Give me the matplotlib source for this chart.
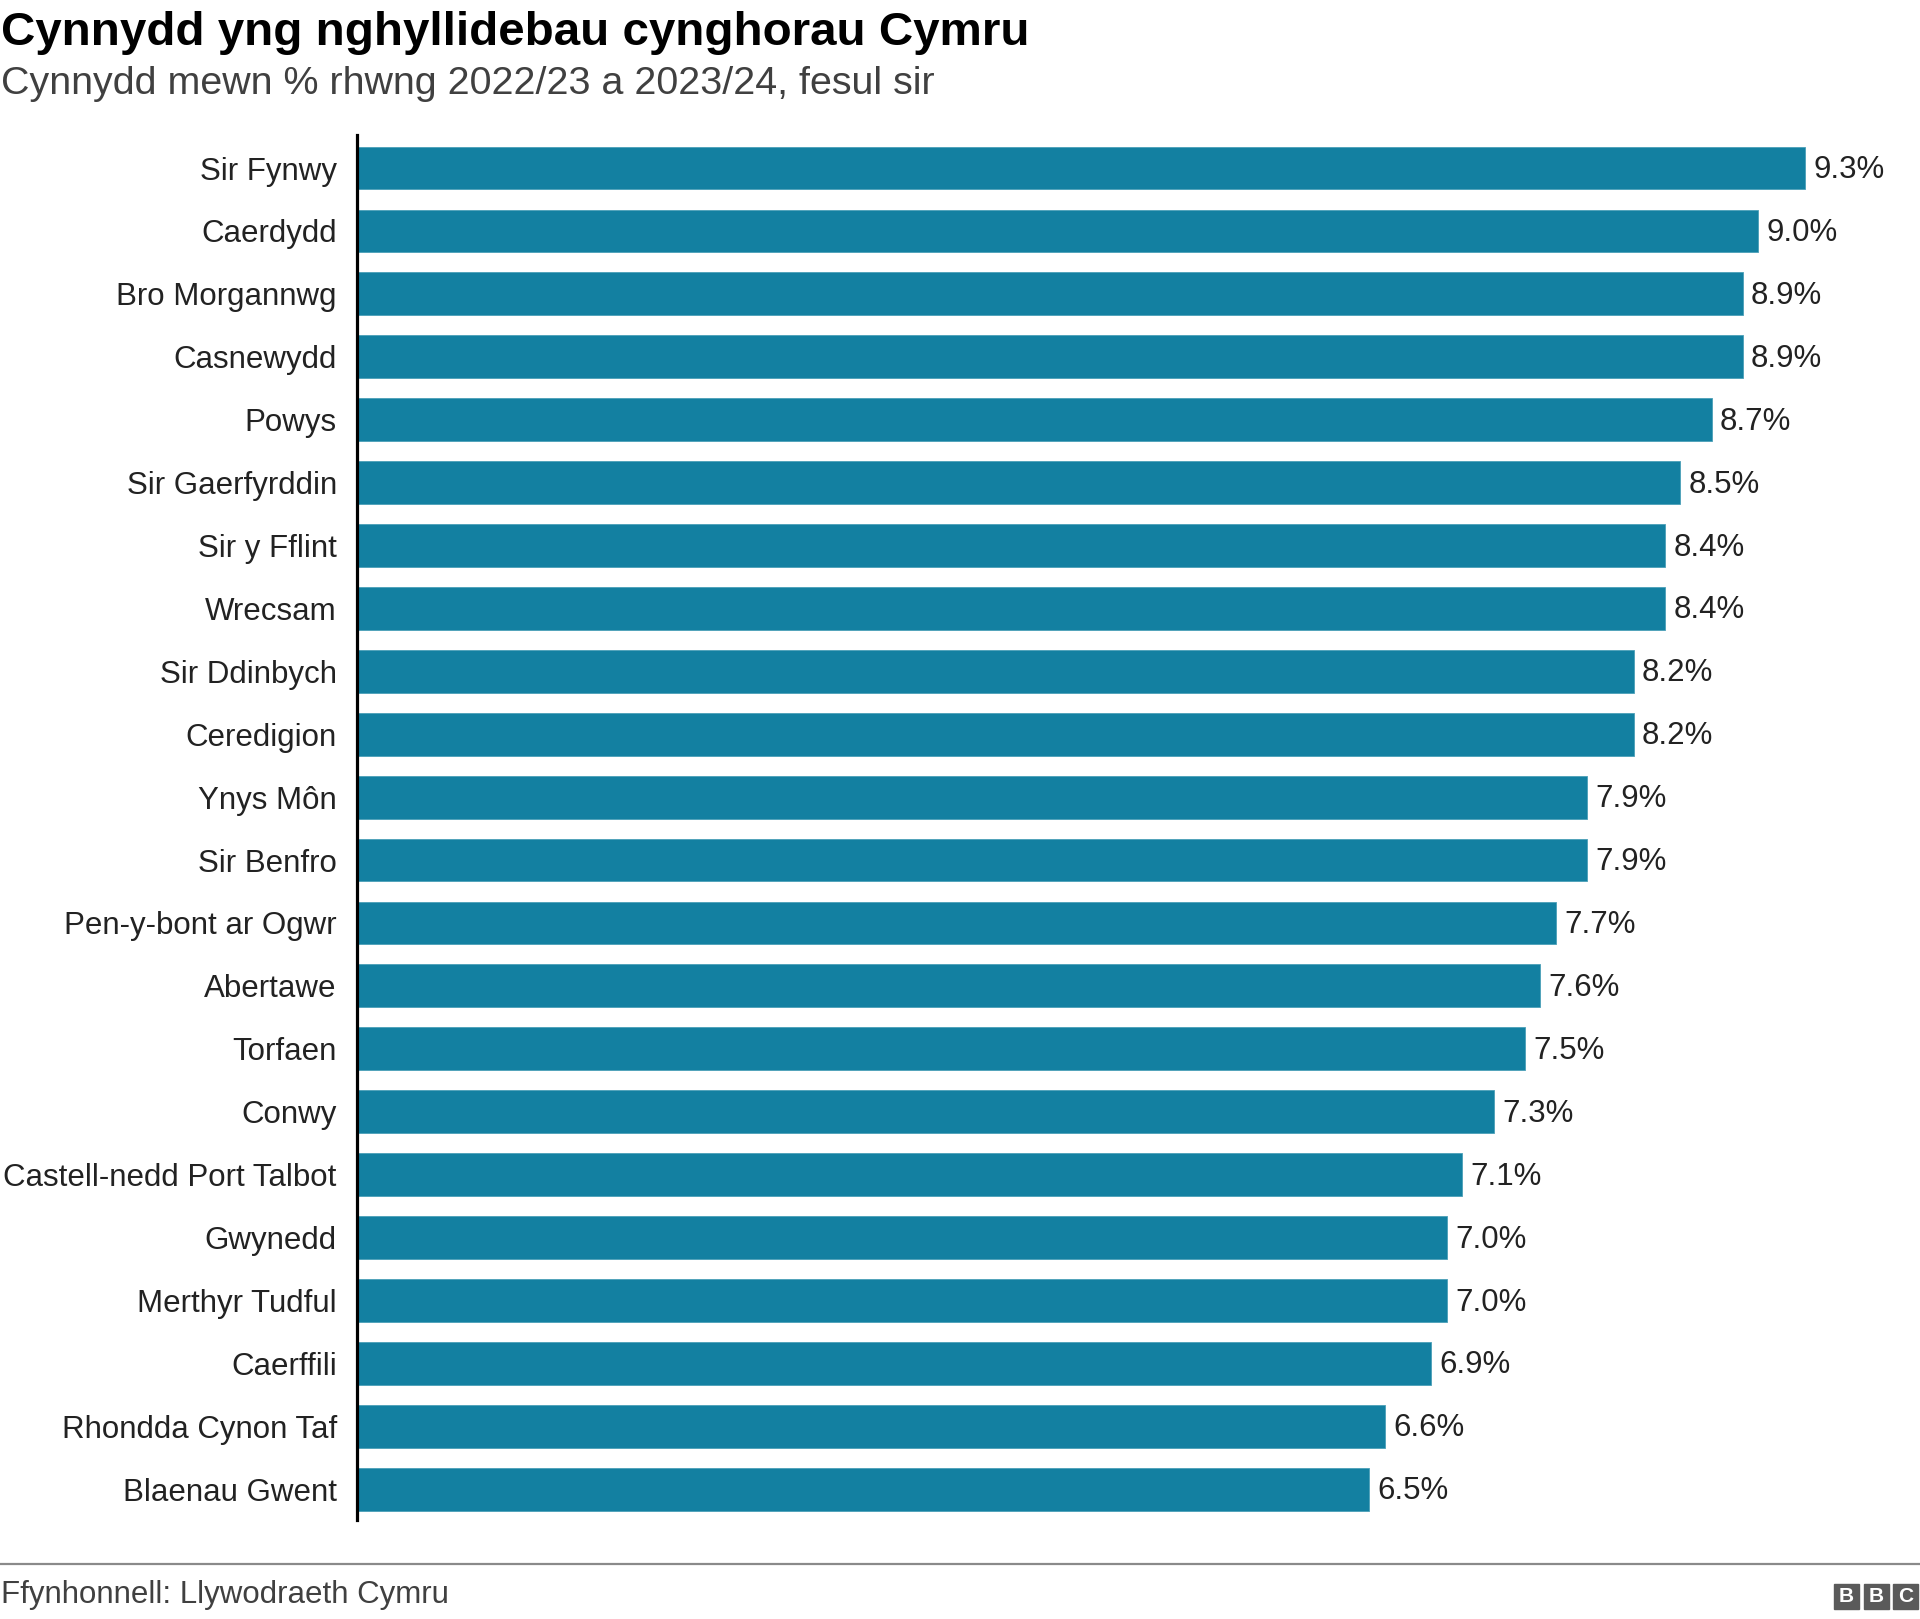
import matplotlib.pyplot as plt
from matplotlib.patches import Rectangle

plt.rcParams['font.family'] = ['Liberation Sans', 'DejaVu Sans']

councils = [
    "Sir Fynwy", "Caerdydd", "Bro Morgannwg", "Casnewydd", "Powys",
    "Sir Gaerfyrddin", "Sir y Fflint", "Wrecsam", "Sir Ddinbych", "Ceredigion",
    "Ynys Môn", "Sir Benfro", "Pen-y-bont ar Ogwr", "Abertawe", "Torfaen",
    "Conwy", "Castell-nedd Port Talbot", "Gwynedd", "Merthyr Tudful",
    "Caerffili", "Rhondda Cynon Taf", "Blaenau Gwent",
]
increase = [9.3, 9.0, 8.9, 8.9, 8.7, 8.5, 8.4, 8.4, 8.2, 8.2, 7.9, 7.9,
            7.7, 7.6, 7.5, 7.3, 7.1, 7.0, 7.0, 6.9, 6.6, 6.5]

W, H = 1920, 1619
fig = plt.figure(figsize=(W / 100, H / 100), dpi=100)

# axes placed in pixel terms: axis line at x=357, top 135, bottom 1520
ax = fig.add_axes([357 / W, 1 - 1520 / H, (W - 357) / W, (1520 - 135) / H])
px_per_unit = (1805 - 357) / 9.3
ax.set_xlim(0, (W - 357) / px_per_unit)

y = list(range(len(councils)))
ax.barh(y, increase, height=0.68, color="#1380A1", edgecolor="#4a9fb8",
        linewidth=0.6)
ax.set_ylim(21.49, -0.525)
ax.set_yticks(y)
ax.set_yticklabels(councils, fontsize=22.5, color="#222222")
ax.tick_params(axis="y", length=0, pad=14.5)
ax.set_xticks([])

for s in ["top", "right", "bottom"]:
    ax.spines[s].set_visible(False)
ax.spines["left"].set_linewidth(2.3)
ax.spines["left"].set_color("#000000")

for yi, v in zip(y, increase):
    ax.annotate(f"{v:.1f}%", (v, yi), xytext=(6, -1.5), textcoords="offset points",
                va="center", ha="left", fontsize=22.5, color="#222222")

fig.text(1 / W, 1 - 45 / H, "Cynnydd yng nghyllidebau cynghorau Cymru",
         fontsize=34.2, fontweight="bold", color="#000000", va="baseline")
fig.text(1 / W, 1 - 94 / H, "Cynnydd mewn % rhwng 2022/23 a 2023/24, fesul sir",
         fontsize=28.4, color="#404040", va="baseline")

# footer
fig.add_artist(plt.Line2D([0, 1], [1 - 1564 / H] * 2, color="#8a8a8a",
                          linewidth=1.6, transform=fig.transFigure))
fig.text(1 / W, 1 - 1603 / H, "Ffynhonnell: Llywodraeth Cymru",
         fontsize=22.5, color="#404040", va="baseline")

box = 25
x0 = 1834
for i, letter in enumerate("BBC"):
    bx = x0 + i * 29.5
    fig.add_artist(Rectangle((bx / W, 1 - 1609 / H), box / W, box / H,
                             transform=fig.transFigure, color="#5a5a5a"))
    fig.text((bx + box / 2) / W, 1 - 1596.5 / H, letter, fontsize=15,
             fontweight="bold", color="white", ha="center", va="center")

fig.savefig("out.png", dpi=100)
